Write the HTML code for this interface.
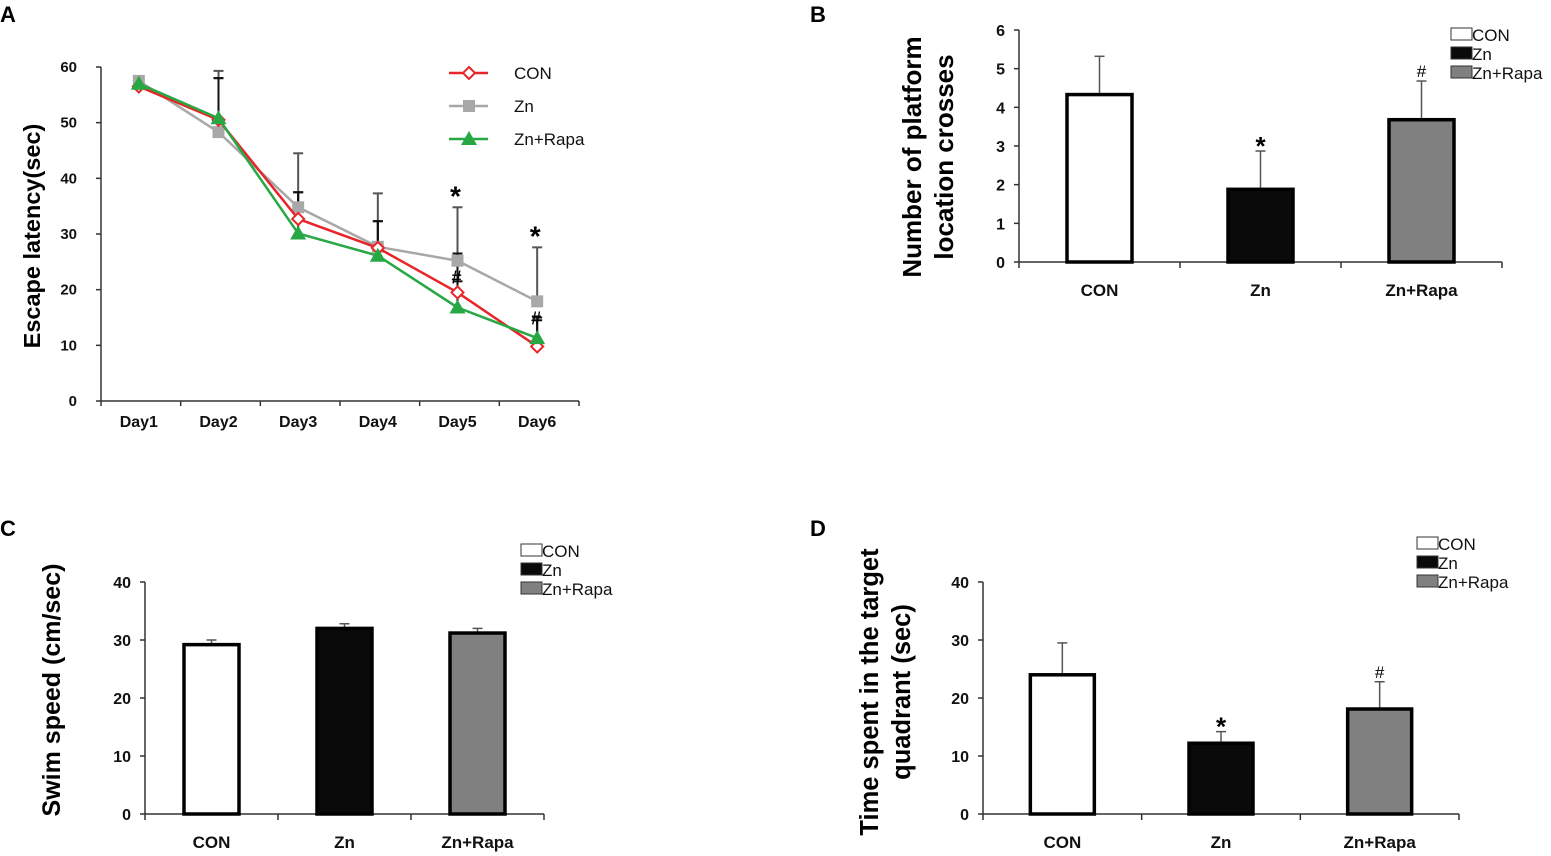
<!DOCTYPE html>
<html><head><meta charset="utf-8">
<style>
html,body{margin:0;padding:0;background:#fff;}
svg{display:block;font-family:"Liberation Sans",sans-serif;}
.tk{font-size:15px;font-weight:bold;fill:#111;}
.ax{stroke:#333;stroke-width:1.5;fill:none;}
</style></head>
<body>
<svg id="fig" width="1551" height="856" viewBox="0 0 1551 856" xmlns="http://www.w3.org/2000/svg">
<text x="0" y="22" font-size="22" font-weight="bold">A</text>
<text x="810" y="22" font-size="22" font-weight="bold">B</text>
<text x="0" y="536" font-size="22" font-weight="bold">C</text>
<text x="810" y="536" font-size="22" font-weight="bold">D</text>
</svg>
<script>
const NS="http://www.w3.org/2000/svg";
const svg=document.getElementById('fig');
function mk(tag,attrs,parent,text){const e=document.createElementNS(NS,tag);for(const k in attrs)e.setAttribute(k,attrs[k]);if(text!==undefined)e.textContent=text;(parent||svg).appendChild(e);return e;}

// ---- Panel A data ----
const daysA=["Day1","Day2","Day3","Day4","Day5","Day6"];
const conA=[56.5,50.5,32.7,27.5,19.5,9.8];
const znA=[57.5,48.3,34.8,27.7,25.2,17.9];
const rapaA=[57,50.8,30.1,26.1,16.8,11.3];
const conErrA=[0,58,37.5,32.3,21.5,14.5];
const znErrA=[0,59.3,44.5,37.3,34.8,27.6];
const rapaErrA=[0,58,37.5,32.3,26.5,15];
const ticksA=[0,10,20,30,40,50,60];
const starA=["","","","","*","*"];
const hashA=["","","","","#","#"];

// ---- Bar panels data ----
const groups=["CON","Zn","Zn+Rapa"];
const valB=[4.33,1.88,3.68], errB=[5.32,2.87,4.68], ticksB=[0,1,2,3,4,5,6], markB=["","*","#"];
const valC=[29.2,32,31.2], errC=[30,32.8,32], ticksC=[0,10,20,30,40], markC=["","",""];
const valD=[24,12.2,18.1], errD=[29.5,14.2,22.8], ticksD=[0,10,20,30,40], markD=["","*","#"];
const fills=["#ffffff","#0a0a0a","#808080"];

// ---- Panel A ----
(function(){
  const x0=101,x1=579,y0=401,yTop=67,max=60;
  const band=(x1-x0)/daysA.length;
  const X=i=>x0+band*(i+0.5)-2, Y=v=>y0-(v/max)*(y0-yTop);
  const g=mk('g',{});
  
  
  mk('line',{x1:x0,y1:yTop,x2:x0,y2:y0,class:'ax'},g);
  mk('line',{x1:x0,y1:y0,x2:x1,y2:y0,class:'ax'},g);
  ticksA.forEach(t=>{mk('line',{x1:x0-5,y1:Y(t),x2:x0,y2:Y(t),class:'ax'},g);
    const tt=mk('text',{x:x0-24,y:Y(t)+5,'text-anchor':'end',class:'tk'},g,t);
    });
  for(let i=0;i<=daysA.length;i++)mk('line',{x1:x0+band*i,y1:y0,x2:x0+band*i,y2:y0+5,class:'ax'},g);
  daysA.forEach((d,i)=>{const t=mk('text',{x:X(i),y:y0+26,'text-anchor':'middle',class:'tk',style:'font-size:16px'},g,d);
    });
  const yt=mk('text',{transform:`translate(40,${(y0+yTop)/2+2}) rotate(-90)`,'text-anchor':'middle','font-size':'23.5','font-weight':'bold'},g,'Escape latency(sec)');
  
  [[znErrA,znA,'#555'],[conErrA,conA,'#111'],[rapaErrA,rapaA,'#111']].forEach(([e,v,c])=>{
    e.forEach((top,i)=>{if(!top)return;const b=Math.max(v[i],0);
      mk('line',{x1:X(i),y1:Y(b),x2:X(i),y2:Y(top),stroke:c,'stroke-width':2},g);
      mk('line',{x1:X(i)-5,y1:Y(top),x2:X(i)+5,y2:Y(top),stroke:c,'stroke-width':2},g);});
  });
  function series(vals,color,marker,name){
    const pl=mk('polyline',{points:vals.map((v,i)=>X(i)+','+Y(v)).join(' '),fill:'none',stroke:color,'stroke-width':2.5},g);
    
    vals.forEach((v,i)=>marker(X(i),Y(v)));
  }
  const diamond=(x,y,p)=>mk('polygon',{points:`${x},${y-6} ${x+6},${y} ${x},${y+6} ${x-6},${y}`,fill:'#fff',stroke:'#e8262a','stroke-width':2},p||g);
  const square=(x,y,p)=>mk('rect',{x:x-6,y:y-6,width:12,height:12,fill:'#a8a8a8'},p||g);
  const tri=(x,y,p)=>mk('polygon',{points:`${x},${y-8} ${x+8},${y+6} ${x-8},${y+6}`,fill:'#27a844'},p||g);
  series(znA,'#a8a8a8',square,'zn');
  series(conA,'#e8262a',diamond,'con');
  series(rapaA,'#27a844',tri,'zn-rapa');
  daysA.forEach((d,i)=>{
    if(starA[i]){const t=mk('text',{x:X(i)-2,y:Y(znErrA[i])-2,'text-anchor':'middle','font-size':'28','font-weight':'bold'},g,'*');}
    if(hashA[i]){const t=mk('text',{x:X(i)-1,y:Y(znA[i])+23,'text-anchor':'middle','font-size':'18','font-weight':'bold'},g,'#');}
  });
  const leg=[['CON','#e8262a',diamond],['Zn','#a8a8a8',square],['Zn+Rapa','#27a844',tri]];
  leg.forEach((l,i)=>{const y=73+i*33;const lg=mk('g',{},g);
    
    mk('line',{x1:449,y1:y,x2:488,y2:y,stroke:l[1],'stroke-width':2.5},lg);l[2](469,y,lg);
    mk('text',{x:514,y:y+6,'font-size':'17',fill:'#111'},lg,l[0]);});
})();

// ---- bar panels ----
function barPanel(o){
  const {x0,x1,y0,yTop,max,vals,errs,ticks,marks,title,name,legX,legY,lx,ly,fs}=o;
  const g=mk('g',{});
  
  
  const band=(x1-x0)/groups.length;
  const X=i=>x0+band*(i+0.5), Y=v=>y0-(v/max)*(y0-yTop);
  const bw=o.bw;
  mk('line',{x1:x0,y1:yTop,x2:x0,y2:y0,class:'ax'},g);
  mk('line',{x1:x0,y1:y0,x2:x1,y2:y0,class:'ax'},g);
  ticks.forEach(t=>{mk('line',{x1:x0-5,y1:Y(t),x2:x0,y2:Y(t),class:'ax'},g);
    const tt=mk('text',{x:x0-14,y:Y(t)+6,'text-anchor':'end',class:'tk',style:'font-size:16px'},g,t);
    });
  for(let i=0;i<=groups.length;i++)mk('line',{x1:x0+band*i,y1:y0,x2:x0+band*i,y2:y0+6,class:'ax'},g);
  groups.forEach((c,i)=>{
    const cx=X(i);
    mk('line',{x1:cx,y1:Y(vals[i]),x2:cx,y2:Y(errs[i]),stroke:'#555','stroke-width':1.5},g);
    mk('line',{x1:cx-5,y1:Y(errs[i]),x2:cx+5,y2:Y(errs[i]),stroke:'#555','stroke-width':1.5},g);
    const r=mk('rect',{x:cx-bw/2,y:Y(vals[i]),width:bw,height:y0-Y(vals[i]),fill:fills[i],stroke:'#000','stroke-width':3.5},g);
    
    
    const t=mk('text',{x:cx,y:y0+34,'text-anchor':'middle',class:'tk',style:'font-size:17px'},g,c);
    
    if(marks[i]){const m=mk('text',{x:cx,y:Y(errs[i])-(marks[i]=='*'?-4:4),'text-anchor':'middle','font-size':marks[i]=='*'?26:17,'font-weight':marks[i]=='*'?'bold':'normal'},g,marks[i]);
      }
  });
  title.forEach((line,j)=>{const t=mk('text',{transform:`translate(${lx+j*32},${ly}) rotate(-90)`,'text-anchor':'middle','font-size':fs,'font-weight':'bold'},g,line);
    });
  groups.forEach((c,i)=>{const y=legY+i*19;const lg=mk('g',{},g);
    
    mk('rect',{x:legX,y:y-6,width:21,height:12,fill:fills[i],stroke:'#333','stroke-width':1},lg);
    mk('text',{x:legX+21,y:y+7,'font-size':'17',fill:'#111'},lg,c);});
}
barPanel({name:'panel-b-bar-chart',x0:1019,x1:1502,y0:262,yTop:30,max:6,vals:valB,errs:errB,ticks:ticksB,marks:markB,bw:65,title:['Number of platform','location crosses'],lx:921,ly:157,legX:1451,legY:34,fs:26});
barPanel({name:'panel-c-bar-chart',x0:145,x1:544,y0:814,yTop:582,max:40,vals:valC,errs:errC,ticks:ticksC,marks:markC,bw:55,title:['Swim speed (cm/sec)'],lx:60,ly:690,legX:521,legY:550,fs:25});
barPanel({name:'panel-d-bar-chart',x0:983,x1:1459,y0:814,yTop:582,max:40,vals:valD,errs:errD,ticks:ticksD,marks:markD,bw:64,title:['Time spent in the target','quadrant  (sec)'],lx:878,ly:692,legX:1417,legY:543,fs:25.5});
</script>
</body></html>
